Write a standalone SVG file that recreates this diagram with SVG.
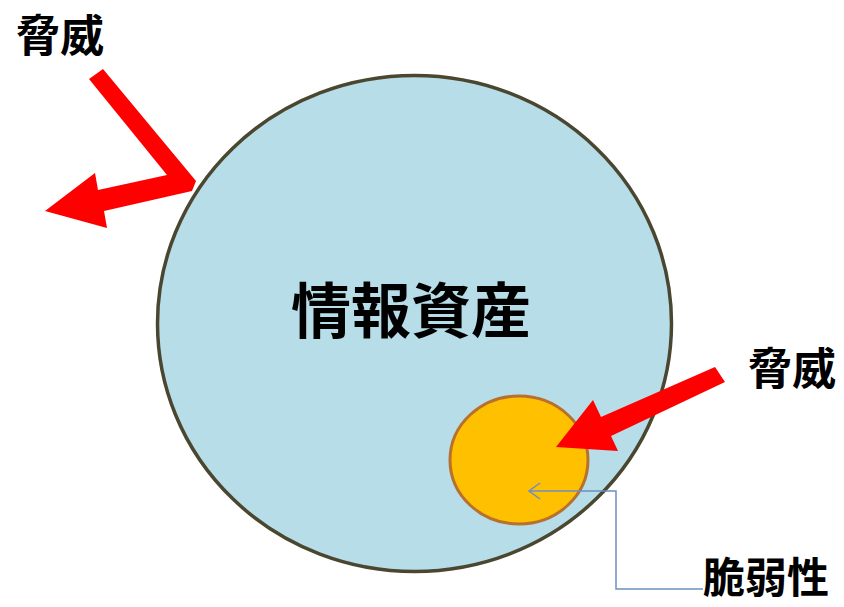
<svg xmlns="http://www.w3.org/2000/svg" width="844" height="607" viewBox="0 0 844 607">
<style>
text{font-family:"Noto Sans CJK JP","Noto Sans CJK SC",sans-serif;font-weight:bold;fill:#000}
.arrow{fill:#FF0000;stroke:none}
.conn{fill:none;stroke:#6C8EC2;stroke-width:1.5}
</style>
<rect width="844" height="607" fill="#fff"/>
<g id="asset">
<ellipse cx="414.5" cy="323.5" rx="257" ry="248" fill="#B7DDE8" stroke="#4A4630" stroke-width="3.5"/>
<text x="411" y="333" font-size="60" text-anchor="middle">情報資産</text>
</g>
<g id="vulnerability-circle">
<ellipse cx="519" cy="460" rx="69" ry="64" fill="#FFC000" stroke="#B8702E" stroke-width="3"/>
</g>
<g id="threat1">
<polygon class="arrow" points="103,69 196,181 192,191 104,211 107,228 45,211 95,173 98,190 167,175 89,79"/>
<text x="60" y="52" font-size="44" text-anchor="middle">脅威</text>
</g>
<g id="threat2">
<polygon class="arrow" points="715,367 601,417 593,400 556,447 618,451 611,436 725,382"/>
<text x="792" y="385" font-size="44" text-anchor="middle">脅威</text>
</g>
<g id="vulnerability">
<text x="703" y="593" font-size="42">脆弱性</text>
</g>
<g id="connectors">
<polyline class="conn" points="703,589 616,589 616,491 529,491"/>
<polyline class="conn" points="540,483 529,491 540,499"/>
</g>
</svg>
